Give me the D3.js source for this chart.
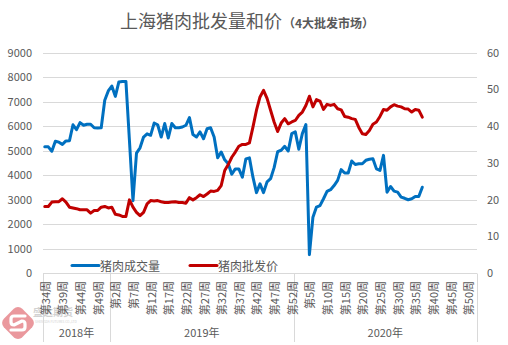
<!DOCTYPE html>
<html>
<head>
<meta charset="utf-8">
<script src="https://cdn.jsdelivr.net/npm/d3@7/dist/d3.min.js"></script>
<style>
  html, body { margin: 0; padding: 0; background: #fff; }
  svg { display: block; }
  text { font-family: "Noto Sans CJK SC", "Noto Sans", sans-serif; }
</style>
</head>
<body>
<svg id="chart" width="508" height="345"></svg>
<script>
// Week categories, grouped by year
const years = ["2018年", "2019年", "2020年"];
const yearFirstWeek = [34, 1, 1];
const yearLastWeek = [52, 52, 52];

// Weekly wholesale volume (left axis) and wholesale price (right axis)
const volume = [
  5150, 5150, 4970, 5380, 5340, 5250, 5390, 5400, 6050, 5850,
  6140, 6030, 6070, 6070, 5930, 5920, 5930, 7050, 7430, 7630,
  7210, 7800, 7820, 7820, 5400, 2950, 4890, 5110, 5550, 5680,
  5620, 6120, 6050, 5550, 6100, 5510, 6100, 5930, 5930, 5960,
  6030, 6340, 5650, 5550, 5760, 5480, 5890, 5930, 5550, 4700,
  4940, 4620, 4460, 4030, 4250, 4250, 3910, 4660, 4700, 3910,
  3280, 3640, 3280, 3720, 3850, 4300, 4950, 5010, 5170, 4980,
  5690, 5760, 5050, 5690, 6060, 750, 2280, 2690, 2750, 3030,
  3330, 3400, 3570, 3780, 4220, 4080, 4080, 4570, 4430, 4460,
  4460, 4600, 4640, 4660, 4250, 4190, 4800, 3300, 3530, 3340,
  3300, 3100, 3050, 2990, 3030, 3120, 3120, 3500
];
const price = [
  18.1, 18.1, 19.3, 19.4, 19.4, 20.2, 19.3, 17.9, 17.7, 17.5,
  17.2, 17.2, 17.2, 16.3, 17.0, 17.0, 17.9, 18.1, 17.7, 17.9,
  16.0, 15.8, 15.4, 15.4, 19.9, 17.9, 16.5, 15.6, 16.5, 18.8,
  19.7, 19.6, 19.7, 19.4, 19.2, 19.2, 19.3, 19.4, 19.2, 19.2,
  19.0, 20.5, 19.9, 20.5, 21.3, 20.8, 21.5, 22.3, 22.2, 22.5,
  23.8, 27.9, 29.5, 31.5, 32.9, 34.5, 35.0, 35.0, 35.4, 39.7,
  44.3, 47.9, 49.7, 47.5, 44.3, 41.1, 38.5, 40.8, 42.0, 40.6,
  41.1, 41.5, 42.9, 43.8, 45.6, 48.1, 45.2, 47.2, 46.8, 44.5,
  45.9, 45.6, 45.9, 44.7, 44.4, 42.6, 42.4, 42.0, 41.8, 39.6,
  37.9, 37.7, 38.8, 40.5, 41.1, 42.6, 44.5, 44.3, 45.2, 45.8,
  45.4, 45.2, 44.7, 44.6, 43.8, 44.5, 44.3, 42.4
];

const leftTicks = [0, 1000, 2000, 3000, 4000, 5000, 6000, 7000, 8000, 9000];
const rightTicks = [0, 10, 20, 30, 40, 50, 60];
const seriesNames = ["猪肉成交量", "猪肉批发价"];
const titleMain = "上海猪肉批发量和价";
const titleSub = "（4大批发市场）";

// Build flat category list: one entry per week
const categories = [];
years.forEach((y, gi) => {
  for (let w = yearFirstWeek[gi]; w <= yearLastWeek[gi]; w++) {
    categories.push({ year: gi, week: w, label: "第" + w + "周" });
  }
});

const svg = d3.select("#chart");
const grey = "#595959";
const blue = "#0070C0";
const red = "#C00000";

const plot = { left: 43, right: 477, top: 52.5, bottom: 273 };

const x = d3.scaleBand()
  .domain(d3.range(categories.length))
  .range([plot.left, plot.right])
  .padding(0);
const cx = i => x(i) + x.bandwidth() / 2;

const yL = d3.scaleLinear().domain([0, 9000]).range([plot.bottom, plot.top]);
const yR = d3.scaleLinear().domain([0, 60]).range([plot.bottom, plot.top]);

// Watermark logo (drawn first, underneath)
const wm = svg.append("g").attr("opacity", 0.75);
const dia = wm.append("g").attr("transform", "translate(18,323) rotate(45)");
dia.append("rect")
  .attr("x", -13).attr("y", -13).attr("width", 26).attr("height", 26)
  .attr("rx", 6).attr("fill", "#e4767d");
dia.append("path")
  .attr("d", "M7,-7 L-4,-7 Q-7,-7 -7,-4 L-7,-1 Q-7,2 -4,2 L4,-2 Q7,-2 7,1 L7,4 Q7,7 4,7 L-7,7")
  .attr("transform", "rotate(-45)")
  .attr("fill", "none").attr("stroke", "#fff").attr("stroke-width", 3.2)
  .attr("stroke-linecap", "round").attr("stroke-linejoin", "round");
wm.append("text").attr("x", 33).attr("y", 316)
  .attr("font-size", 10).attr("font-weight", "bold").attr("fill", "#c4c4c4")
  .text("盛达期货");
wm.append("text").attr("x", 35).attr("y", 323)
  .attr("font-size", 3.2).attr("fill", "#c4c4c4")
  .text("SHENGDA FUTURES CO.,LTD");

// Title
const t = svg.append("text").attr("x", 120).attr("y", 28).attr("fill", grey);
t.append("tspan").attr("font-size", 18).text(titleMain);
t.append("tspan").attr("font-size", 12).attr("font-weight", "bold").attr("dx", 1).text(titleSub);

// Horizontal gridlines
svg.append("g").selectAll("line")
  .data(leftTicks.filter(d => d > 0))
  .join("line")
  .attr("x1", plot.left).attr("x2", plot.right)
  .attr("y1", d => Math.round(yL(d)) + 0.5).attr("y2", d => Math.round(yL(d)) + 0.5)
  .attr("stroke", "#d9d9d9").attr("stroke-width", 1);

// Left axis labels
const axL = svg.append("g")
  .attr("transform", `translate(${plot.left - 11},0)`)
  .call(d3.axisLeft(yL).tickValues(leftTicks).tickSize(0).tickPadding(0).tickFormat(d3.format("d")));
axL.select(".domain").remove();
axL.selectAll("text").attr("font-size", 11).attr("fill", grey)
  .attr("font-family", "\"Noto Sans CJK SC\", sans-serif");

// Right axis labels
const axR = svg.append("g")
  .attr("transform", `translate(${plot.right + 10},0)`)
  .call(d3.axisRight(yR).tickValues(rightTicks).tickSize(0).tickPadding(0));
axR.select(".domain").remove();
axR.selectAll("text").attr("font-size", 11).attr("fill", grey)
  .attr("font-family", "\"Noto Sans CJK SC\", sans-serif");

// Category axis: baseline, group separators, week labels, year labels
const axisY = Math.round(plot.bottom) + 0.5;
svg.append("line")
  .attr("x1", plot.left).attr("x2", plot.right)
  .attr("y1", axisY).attr("y2", axisY)
  .attr("stroke", "#d9d9d9");

const groupEdges = [0];
years.forEach((y, gi) => {
  groupEdges.push(categories.filter(c => c.year <= gi).length);
});
svg.append("g").selectAll("line")
  .data(groupEdges)
  .join("line")
  .attr("x1", d => Math.round(d < categories.length ? x(d) : plot.right) + 0.5)
  .attr("x2", d => Math.round(d < categories.length ? x(d) : plot.right) + 0.5)
  .attr("y1", axisY).attr("y2", 342)
  .attr("stroke", "#d9d9d9");

svg.append("g").selectAll("text")
  .data(categories.map((c, i) => ({ c, i })).filter(d => d.i % 5 === 0))
  .join("text")
  .attr("transform", d => `translate(${cx(d.i)},281) rotate(-90)`)
  .attr("text-anchor", "end")
  .attr("dominant-baseline", "central")
  .attr("font-size", 11)
  .attr("fill", grey)
  .text(d => d.c.label);

svg.append("g").selectAll("text")
  .data(years)
  .join("text")
  .attr("x", (d, gi) => {
    const a = groupEdges[gi];
    const b = groupEdges[gi + 1];
    const xa = x(a);
    const xb = b < categories.length ? x(b) : plot.right;
    return (xa + xb) / 2;
  })
  .attr("y", 332)
  .attr("text-anchor", "middle")
  .attr("dominant-baseline", "central")
  .attr("font-size", 11)
  .attr("fill", grey)
  .text(d => d);

// Series lines
const lineL = d3.line().x((d, i) => cx(i)).y(d => yL(d));
const lineR = d3.line().x((d, i) => cx(i)).y(d => yR(d));

svg.append("path").datum(volume)
  .attr("d", lineL)
  .attr("fill", "none").attr("stroke", blue).attr("stroke-width", 3)
  .attr("stroke-linejoin", "round").attr("stroke-linecap", "round");

svg.append("path").datum(price)
  .attr("d", lineR)
  .attr("fill", "none").attr("stroke", red).attr("stroke-width", 3)
  .attr("stroke-linejoin", "round").attr("stroke-linecap", "round");

// Legend
const legend = [
  { name: seriesNames[0], color: blue, x: 72 },
  { name: seriesNames[1], color: red, x: 190 }
];
const lg = svg.append("g").selectAll("g").data(legend).join("g")
  .attr("transform", d => `translate(${d.x},265.5)`);
lg.append("line").attr("x1", 0).attr("x2", 27).attr("y1", 0).attr("y2", 0)
  .attr("stroke", d => d.color).attr("stroke-width", 3).attr("stroke-linecap", "round");
lg.append("text").attr("x", 28).attr("y", 0)
  .attr("dominant-baseline", "central")
  .attr("font-size", 12).attr("fill", grey)
  .text(d => d.name);
</script>
</body>
</html>
